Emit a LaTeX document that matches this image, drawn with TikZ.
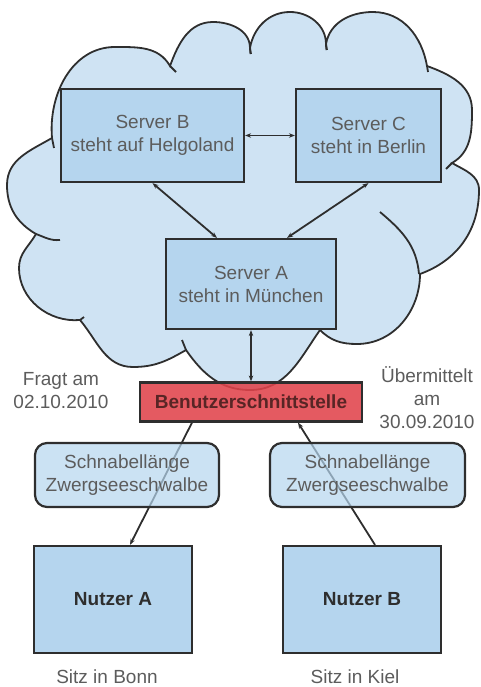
\documentclass[tikz,border=0pt]{standalone}
\usepackage{fontspec}
\setmainfont{Liberation Sans}
\usetikzlibrary{arrows.meta}

\definecolor{nuvola}{HTML}{CFE3F3}
\definecolor{scatola}{HTML}{B5D5EE}
\definecolor{rosso}{HTML}{E0434B}
\definecolor{bordo}{HTML}{2E2E2E}
\definecolor{testo}{HTML}{5C5C5C}

\begin{document}
\begin{tikzpicture}[x=1pt, y=1pt, >={Stealth[length=6pt,width=4.5pt]},
    font=\fontsize{19}{23}\selectfont]
% Stili per i riquadri
\tikzset{server/.style={draw=bordo, line width=2.2pt, fill=scatola, align=center, text=testo, inner sep=0pt},
         utente/.style={server, text=bordo, font=\fontsize{19}{23}\selectfont\bfseries},
         dato/.style={server, rounded corners=12pt, fill opacity=0.7, text opacity=1},
         freccia/.style={draw=bordo, line width=1.8pt},
         bordonuvola/.style={draw=bordo, line width=1.8pt},
         nota/.style={align=center, text=testo}}

\useasboundingbox (0,0) rectangle (480,-687);

% --- LA NUVOLA (lobo per lobo) ---
\draw[fill=nuvola, bordonuvola]
    (52,-138) to[out=95,  in=180] (115,-47)  to[out=0,   in=120] (170,-66)
              to[out=70,  in=180] (213,-22)  to[out=0,   in=90]  (250,-48)
              to[out=80,  in=180] (290,-12)  to[out=0,   in=90]  (326,-44)
              to[out=80,  in=180] (373,-12)  to[out=0,   in=100] (427,-66)
              to[out=-20, in=90]  (472,-110) to[out=-90, in=30]  (452,-163)
              to[out=-30, in=90]  (479,-190) to[out=-90, in=20]  (420,-274)
              to[out=-90, in=0]   (357,-344) to[out=180, in=-45] (320,-330)
              to[out=-125,in=0]   (250,-390) to[out=180, in=-55] (186,-350)
              to[out=-150,in=0]   (133,-367) to[out=180, in=-50] (80,-320)
              to[out=185, in=-90] (19,-268)  to[out=90,  in=-120] (36,-234)
              to[out=150, in=-90] (7,-185)   to[out=90,  in=-150] cycle;
% uncini interni dei lobi
\foreach \xa/\ya/\xb/\yb in {52/-138/54/-148, 170/-66/176/-72, 250/-48/251/-54, 326/-44/327/-50,
    427/-66/428/-72, 452/-163/446/-169, 320/-330/322/-316, 186/-350/182/-340, 80/-320/84/-317}
    \draw[bordonuvola] (\xa,\ya) -- (\xb,\yb);
\draw[bordonuvola] (380,-212) to[out=-40, in=95] (419,-274);
\draw[bordonuvola] (36,-234) to[out=-20, in=185] (60,-240);

% --- SERVER ---
\node[server, minimum width=183pt, minimum height=93pt] (srvB) at (152.5,-135.5) {Server B\\steht auf Helgoland};
\node[server, minimum width=145pt, minimum height=93pt] (srvC) at (368.5,-135.5) {Server C\\steht in Berlin};
\node[server, minimum width=170pt, minimum height=90pt] (srvA) at (251,-284) {Server A\\steht in München};

% Interfaccia
\node[server, fill=rosso, fill opacity=0.88, text opacity=1, text=bordo!80!red, font=\fontsize{19}{23}\selectfont\bfseries,
      minimum width=222pt, minimum height=39pt] (ui) at (251,-402) {Benutzerschnittstelle};

% Utenti
\node[utente, minimum width=158pt, minimum height=107pt] (userA) at (113,-599.5) {Nutzer A};
\node[utente, minimum width=158pt, minimum height=107pt] (userB) at (362,-599.5) {Nutzer B};

% --- FRECCE ---
\draw[freccia, <->] (srvB.east) -- (srvC.west);
\draw[freccia, <->] (srvB.south) -- ([xshift=-34pt]srvA.north);
\draw[freccia, <->] (srvC.south) -- ([xshift=36pt]srvA.north);
\draw[freccia, <->] (srvA.south) -- (ui.north);
\draw[freccia, ->] ([xshift=-59pt]ui.south) -- ([xshift=17pt]userA.north);
\draw[freccia, ->] ([xshift=13pt]userB.north) -- ([xshift=47pt]ui.south);

% Dati trasmessi (sopra le frecce)
\node[dato, minimum width=184pt, minimum height=64pt] (birdA) at (127,-475) {Schnabellänge\\Zwergseeschwalbe};
\node[dato, minimum width=195pt, minimum height=64pt] (birdB) at (367.5,-475) {Schnabellänge\\Zwergseeschwalbe};

% Testi liberi
\node[nota] (askA) at (61,-391) {Fragt am\\02.10.2010};
\node[nota] (sendB) at (427,-398) {Übermittelt\\am\\30.09.2010};
\node[nota] (seatA) at (107,-677) {Sitz in Bonn};
\node[nota] (seatB) at (355,-677) {Sitz in Kiel};

\end{tikzpicture}
\end{document}
